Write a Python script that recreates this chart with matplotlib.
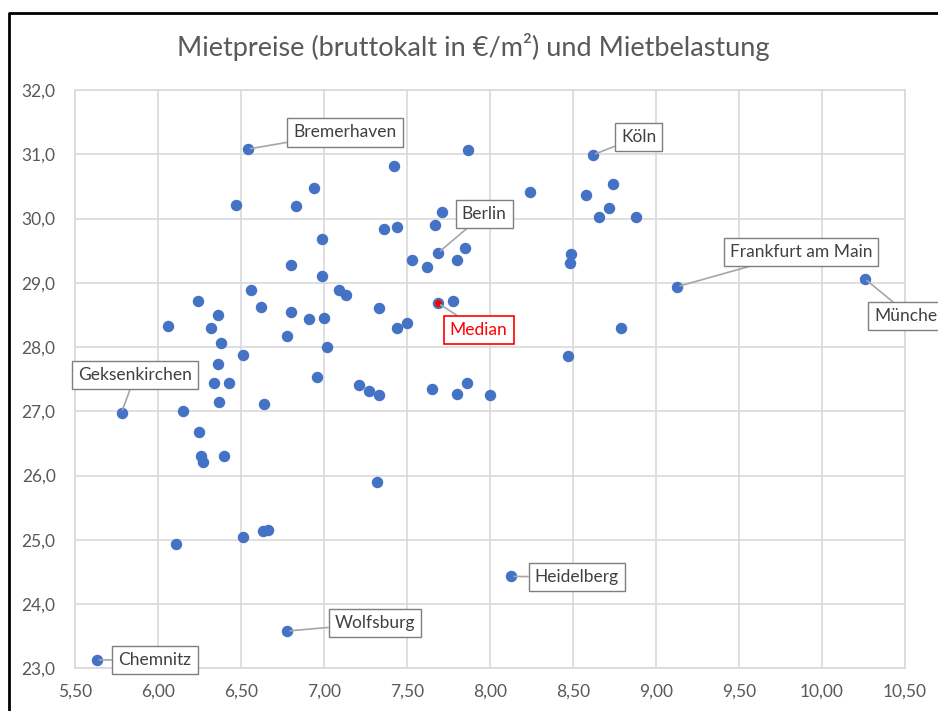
import matplotlib
matplotlib.use("Agg")
import matplotlib.pyplot as plt
from matplotlib.lines import Line2D

plt.rcParams['font.family'] = ['Lato', 'DejaVu Sans']

# Mietbelastung (x) und Mietpreis bruttokalt (y), unbeschriftete Städte
x_vals = [6.47, 6.83, 6.94, 7.42, 7.36, 7.44, 7.71, 7.67, 7.53, 7.62, 7.80, 7.85, 7.87,
          6.99, 6.80, 6.99, 6.56, 7.09, 7.13, 6.24, 6.62, 6.36, 6.80, 6.91, 7.00, 7.33,
          7.78, 6.06, 6.32, 6.38, 6.78, 7.44, 7.50, 7.02, 6.51,
          8.24, 8.58, 8.74, 8.72, 8.66, 8.88, 8.49, 8.48, 8.79, 8.47,
          6.36, 6.34, 6.43, 6.37, 6.15, 6.64, 6.96, 7.21, 7.27, 7.33, 7.65, 7.80, 7.86, 8.00,
          6.25, 6.26, 6.27, 6.40, 7.32, 6.11, 6.51, 6.63, 6.66]
y_vals = [30.21, 30.19, 30.48, 30.82, 29.83, 29.87, 30.10, 29.90, 29.35, 29.25, 29.35, 29.54, 31.06,
          29.68, 29.28, 29.11, 28.89, 28.89, 28.81, 28.72, 28.63, 28.50, 28.55, 28.43, 28.45, 28.60,
          28.72, 28.33, 28.29, 28.07, 28.17, 28.29, 28.38, 28.00, 27.88,
          30.41, 30.36, 30.53, 30.16, 30.02, 30.02, 29.44, 29.30, 28.29, 27.86,
          27.73, 27.44, 27.44, 27.15, 27.00, 27.12, 27.54, 27.41, 27.32, 27.25, 27.35, 27.27, 27.44, 27.25,
          26.67, 26.31, 26.21, 26.31, 25.90, 24.93, 25.05, 25.13, 25.15]

# beschriftete Städte
cities = ['Bremerhaven', 'Berlin', 'Köln', 'Frankfurt am Main', 'München',
          'Geksenkirchen', 'Chemnitz', 'Wolfsburg', 'Heidelberg']
city_x = [6.54, 7.69, 8.62, 9.13, 10.26, 5.78, 5.63, 6.78, 8.13]
city_y = [31.08, 29.47, 30.99, 28.94, 29.06, 26.98, 23.13, 23.58, 24.43]

median_x = 7.69
median_y = 28.68

x_ticks = [5.5, 6.0, 6.5, 7.0, 7.5, 8.0, 8.5, 9.0, 9.5, 10.0, 10.5]
y_ticks = [23, 24, 25, 26, 27, 28, 29, 30, 31, 32]

# label offsets in points (text centre relative to the point)
offsets = {
    'Bremerhaven': (70, 12),
    'Berlin': (33, 28),
    'Köln': (33, 13),
    'Frankfurt am Main': (89, 25),
    'München': (33, -27),
    'Geksenkirchen': (10, 27),
    'Chemnitz': (42, 0),
    'Wolfsburg': (63, 5.5),
    'Heidelberg': (47, -0.5),
}

blue = '#4472C4'
grid_col = '#d9d9d9'
text_col = '#595959'

fig = plt.figure(figsize=(9.38, 7.11), dpi=100)
ax = fig.add_axes([0.080, 0.0601, 0.8845, 0.8133])

ax.scatter(x_vals + city_x, y_vals + city_y, s=68, color=blue, zorder=3, linewidths=0)
ax.scatter([median_x], [median_y], s=68, color=blue, zorder=3, linewidths=0)
ax.scatter([median_x], [median_y], s=26, color='#ff0000', zorder=4, linewidths=0)

for name, cx, cy in zip(cities, city_x, city_y):
    ax.annotate(name, (cx, cy), xytext=offsets[name], textcoords='offset points',
                ha='center', va='center', fontsize=12.5, color='#404040', zorder=5,
                bbox=dict(boxstyle='square,pad=0.35', fc='white', ec='#7f7f7f', lw=1),
                arrowprops=dict(arrowstyle='-', color='#a6a6a6', lw=1.2,
                                shrinkA=0, shrinkB=2))

ax.annotate('Median', (median_x, median_y), xytext=(29, -19), textcoords='offset points',
            ha='center', va='center', fontsize=12.5, color='#ff0000', zorder=5,
            bbox=dict(boxstyle='square,pad=0.35', fc='white', ec='#ff0000', lw=1.2),
            arrowprops=dict(arrowstyle='-', color='#a6a6a6', lw=1.2, shrinkA=0, shrinkB=2))

ax.set_xlim(5.5, 10.5)
ax.set_ylim(23, 32)
ax.set_xticks(x_ticks)
ax.set_yticks(y_ticks)
ax.set_xticklabels([f'{v:.2f}'.replace('.', ',') for v in x_ticks])
ax.set_yticklabels([f'{v:.1f}'.replace('.', ',') for v in y_ticks])
ax.tick_params(length=0, labelsize=12.5, labelcolor=text_col)
ax.tick_params(axis='y', pad=14)
ax.tick_params(axis='x', pad=11)
ax.grid(True, color=grid_col, lw=1.2, zorder=0)
ax.set_axisbelow(True)
for sp in ax.spines.values():
    sp.set_color(grid_col)
    sp.set_linewidth(1.2)

fig.text(0.504, 0.934, 'Mietpreise (bruttokalt in €/m²) und Mietbelastung',
         ha='center', va='center', fontsize=19.5, color=text_col)

# chart border (only left and top edge visible)
fig.add_artist(Line2D([9 / 938, 9 / 938, 1.0], [0.0, 1 - 13 / 711, 1 - 13 / 711],
                      color='black', lw=2))

fig.savefig('out.png', dpi=100)
